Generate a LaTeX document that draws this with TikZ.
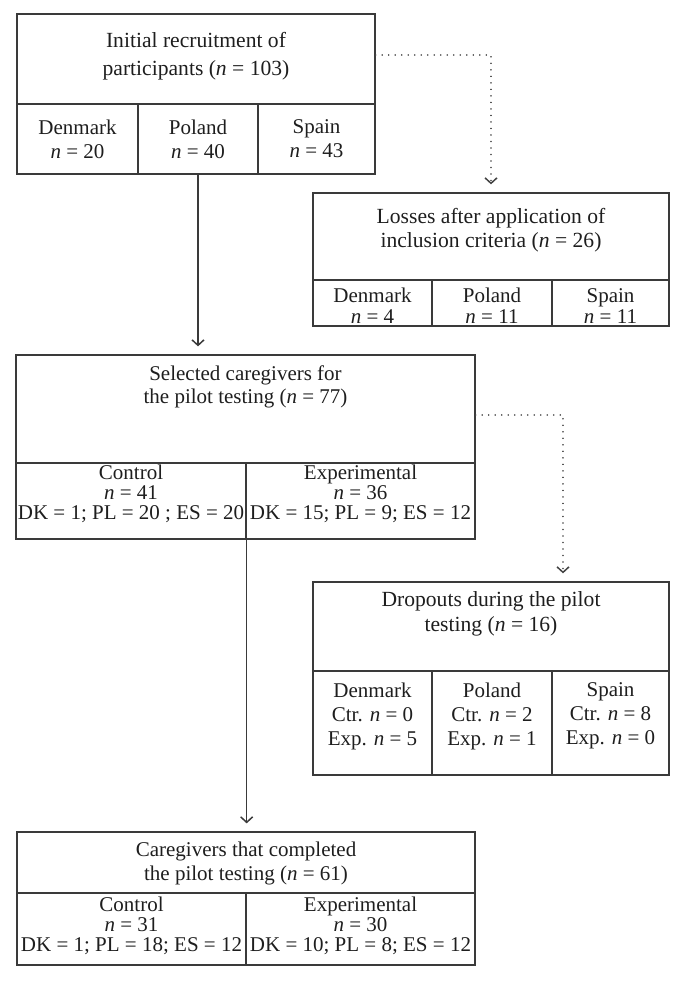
\documentclass[tikz,border=0pt]{standalone}
\usepackage{fontspec}
\setmainfont{Liberation Serif}
\usetikzlibrary{arrows.meta}
\definecolor{bd}{HTML}{3A3A3A}
\definecolor{tx}{HTML}{1E1E1E}
\definecolor{dt}{HTML}{444444}
\begin{document}
\begin{tikzpicture}[x=1pt,y=-1pt,
  box/.style 2 args={draw=bd, line width=1.3pt, inner sep=0pt, minimum width=#1, minimum height=#2},
  txt/.style={text=tx, align=center, inner sep=0pt, font=\fontsize{21}{#1}\selectfont},
  ttl/.style={text=tx, align=center, inner sep=0pt, font=\fontsize{21.6}{#1}\selectfont},
  arr/.style={draw=bd, line width=1.2pt, shorten >=8pt, -{Straight Barb[length=5.5pt,width=12pt,line width=1.5pt]}},
  dotline/.style={draw=dt, line width=1.6pt, line cap=round, dash pattern=on 0.01pt off 6.5pt, shorten >=8pt, -{Straight Barb[length=5.5pt,width=12pt,line width=1.5pt]}}
]
\useasboundingbox (0,0) rectangle (684,981);

% ---- Initial recruitment
\node[box={358}{90}] (top) at (196,59) {};
\node[ttl=28] (topt) at (196,56) {Initial recruitment of\\participants (\textit{n} = 103)};
\node[box={121}{70}] (dk1) at (77.5,139) {};
\node[box={120}{70}] (pl1) at (198,139) {};
\node[box={117}{70}] (es1) at (316.5,139) {};
\node[txt=24] (dk1t) at (77.5,139) {Denmark\\\textit{n} = 20};
\node[txt=24] (pl1t) at (198,139) {Poland\\\textit{n} = 40};
\node[txt=24] (es1t) at (316.5,139) {Spain\\\textit{n} = 43};

% ---- Losses
\node[box={356}{87}] (loss) at (491,236.5) {};
\node[ttl=24] (losst) at (491,230) {Losses after application of\\inclusion criteria (\textit{n} = 26)};
\node[box={119}{46}] (dk2) at (372.5,303) {};
\node[box={120}{46}] (pl2) at (492,303) {};
\node[box={117}{46}] (es2) at (610.5,303) {};
\node[txt=21] (dk2t) at (372.5,306) {Denmark\\\textit{n} = 4};
\node[txt=21] (pl2t) at (492,306) {Poland\\\textit{n} = 11};
\node[txt=21] (es2t) at (610.5,306) {Spain\\\textit{n} = 11};

% ---- Selected caregivers
\node[box={459}{108}] (sel) at (245.5,409) {};
\node[txt=23] (selt) at (245.5,387) {Selected caregivers for\\the pilot testing (\textit{n} = 77)};
\node[box={230}{76}] (ctl1) at (131,501) {};
\node[box={229}{76}] (exp1) at (360.5,501) {};
\node[txt=20] (ctl1t) at (131,494) {Control\\\textit{n} = 41\\DK = 1; PL = 20 ; ES = 20};
\node[txt=20] (exp1t) at (360.5,494) {Experimental\\\textit{n} = 36\\DK = 15; PL = 9; ES = 12};

% ---- Dropouts
\node[box={356}{89}] (drop) at (491,626.5) {};
\node[ttl=25] (dropt) at (491,614) {Dropouts during the pilot\\testing (\textit{n} = 16)};
\node[box={119}{104}] (dk3) at (372.5,723) {};
\node[box={120}{104}] (pl3) at (492,723) {};
\node[box={117}{104}] (es3) at (610.5,723) {};
\node[txt=24] (dk3t) at (372.5,716) {Denmark\\Ctr. \textit{n} = 0\\Exp. \textit{n} = 5};
\node[txt=24] (pl3t) at (492,716) {Poland\\Ctr. \textit{n} = 2\\Exp. \textit{n} = 1};
\node[txt=24] (es3t) at (610.5,716) {Spain\\Ctr. \textit{n} = 8\\Exp. \textit{n} = 0};

% ---- Completed
\node[box={458}{61}] (care) at (246,862.5) {};
\node[txt=24] (caret) at (246,863) {Caregivers that completed\\the pilot testing (\textit{n} = 61)};
\node[box={229}{72}] (ctl2) at (131.5,929) {};
\node[box={229}{72}] (exp2) at (360.5,929) {};
\node[txt=20] (ctl2t) at (131.5,926) {Control\\\textit{n} = 31\\DK = 1; PL = 18; ES = 12};
\node[txt=20] (exp2t) at (360.5,926) {Experimental\\\textit{n} = 30\\DK = 10; PL = 8; ES = 12};

% ---- connectors
\draw[arr] (pl1.south) -- (pl1.south |- sel.north);
\draw[arr] (ctl1.south east) -- (ctl1.south east |- care.north);
\draw[dotline] ([yshift=4pt]top.east) -| (loss.north);
\draw[dotline] ([yshift=-6pt]sel.east) -| ([xshift=72pt]drop.north);
\end{tikzpicture}
\end{document}
